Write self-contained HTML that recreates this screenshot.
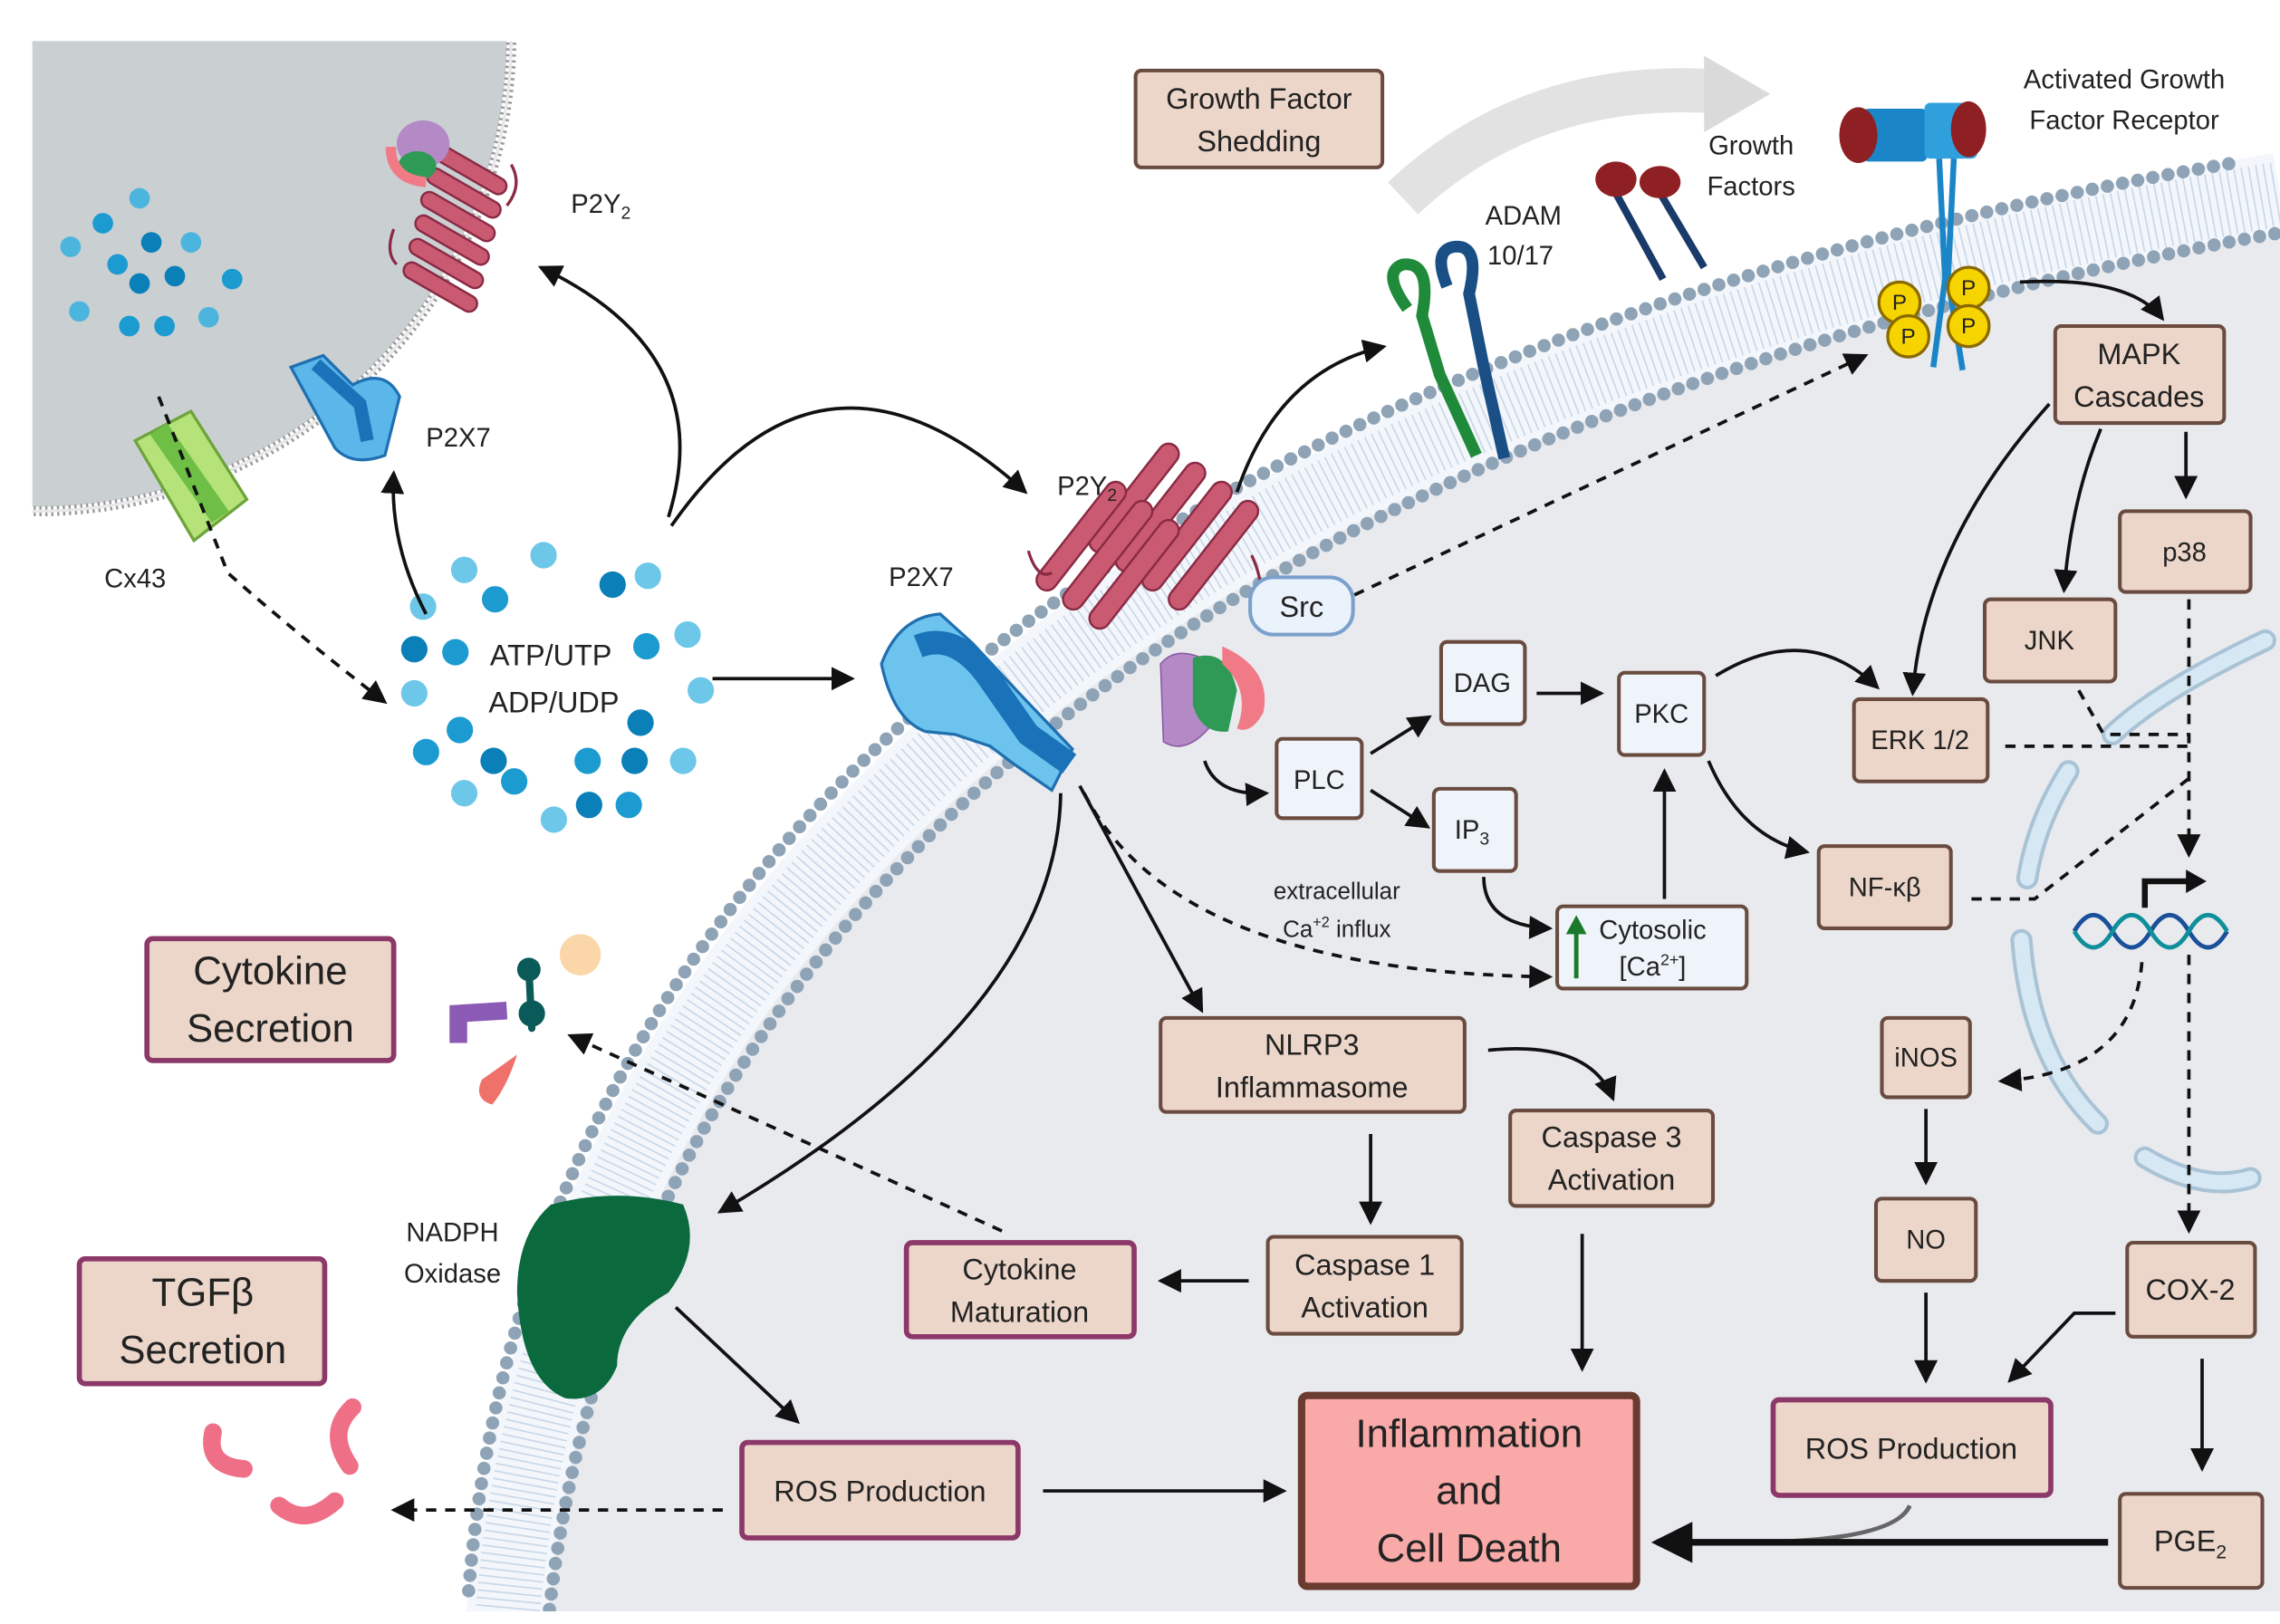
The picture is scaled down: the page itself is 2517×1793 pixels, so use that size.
<!DOCTYPE html>
<html><head><meta charset="utf-8"><style>
html,body{margin:0;padding:0;background:#fff}
svg{display:block}
text{font-family:"Liberation Sans",sans-serif;fill:#222}
.bx{fill:#ecd6c9;stroke:#6a4b3f;stroke-width:2.5}
.bb{fill:#eef4fa;stroke:#6a4b3f;stroke-width:2.5}
.bp{fill:#ecd6c9;stroke:#8c3868;stroke-width:3.5}
.a{fill:none;stroke:#111;stroke-width:2.3;marker-end:url(#ah)}
.d{fill:none;stroke:#111;stroke-width:2.3;stroke-dasharray:7 6;marker-end:url(#ah)}
.dn{fill:none;stroke:#111;stroke-width:2.3;stroke-dasharray:7 6}
.t{font-size:20px;text-anchor:middle}
.tl{font-size:27px;text-anchor:middle}
.tm{font-size:18px;text-anchor:middle}
</style></head><body>
<svg width="2517" height="1793" viewBox="0 0 1552 1105.6" xmlns="http://www.w3.org/2000/svg">
<defs>
<marker id="ah" markerUnits="userSpaceOnUse" markerWidth="18" markerHeight="16" refX="14" refY="8" orient="auto"><path d="M0 0 L16 8 L0 16 Z" fill="#111"/></marker>
<marker id="ahb" markerUnits="userSpaceOnUse" markerWidth="30" markerHeight="28" refX="24" refY="14" orient="auto"><path d="M0 0 L28 14 L0 28 Z" fill="#111"/></marker>
<clipPath id="sc"><rect x="22" y="28" width="400" height="340"/></clipPath>
</defs>

<!-- small cell -->
<g clip-path="url(#sc)">
<circle cx="25" cy="25" r="320" fill="#cacfd2"/>
<circle cx="25" cy="25" r="323" fill="none" stroke="#9a9a9a" stroke-width="7" stroke-dasharray="1.5 2.5"/>
<circle cx="25" cy="25" r="323" fill="none" stroke="#e8e8e8" stroke-width="2"/>
</g>

<!-- main cell -->
<path d="M345 1105 C 380 660, 730 270, 1552 132 L1552 1097 L345 1097 Z" fill="#e8eaee"/>
<path d="M345 1105 C 380 660, 730 270, 1552 132" fill="none" stroke="#f3f6fa" stroke-width="56"/>
<path d="M345 1105 C 380 660, 730 270, 1552 132" fill="none" stroke="#bcd0e4" stroke-width="44" stroke-dasharray="1 4" opacity="0.8"/>
<path d="M345 1105 C 380 660, 730 270, 1552 132" transform="translate(-26,-22)" fill="none" stroke="#8fa3b6" stroke-width="9" stroke-linecap="round" stroke-dasharray="0 10.5"/>
<path d="M345 1105 C 380 660, 730 270, 1552 132" transform="translate(26,22)" fill="none" stroke="#8fa3b6" stroke-width="9" stroke-linecap="round" stroke-dasharray="0 10.5"/>
<rect x="0" y="1097" width="1552" height="10" fill="#fff"/>

<!-- gray big arrow -->
<path d="M955 135 Q 1040 55 1165 62" fill="none" stroke="#e2e2e2" stroke-width="30"/>
<path d="M1160 38 L1205 64 L1160 90 Z" fill="#dadada"/>

<!-- nucleus envelope -->
<g fill="none" stroke-linecap="round">
<path d="M1542 436 Q1470 470 1438 500 M1408 525 Q1386 560 1380 598 M1376 640 Q1382 720 1428 765 M1460 788 Q1500 812 1532 802" stroke="#a9c3d6" stroke-width="15"/>
<path d="M1542 436 Q1470 470 1438 500 M1408 525 Q1386 560 1380 598 M1376 640 Q1382 720 1428 765 M1460 788 Q1500 812 1532 802" stroke="#d6e8f3" stroke-width="10"/>
</g>
<!-- DNA -->
<path d="M1412 634 Q1425 612 1438 634 T1464 634 T1490 634 T1516 634" fill="none" stroke="#1a4f9a" stroke-width="3"/>
<path d="M1412 634 Q1425 656 1438 634 T1464 634 T1490 634 T1516 634" fill="none" stroke="#0e8f9a" stroke-width="3"/>
<path d="M1460 618 L1460 600 L1490 600" fill="none" stroke="#111" stroke-width="4"/>
<path d="M1488 592 L1502 600 L1488 608 Z" fill="#111"/>

<!-- ATP dots small cell -->
<g fill="#1c9bd1">
<circle cx="95" cy="135" r="7" fill="#4cb5dd"/><circle cx="70" cy="152" r="7"/><circle cx="130" cy="165" r="7" fill="#4cb5dd"/><circle cx="103" cy="165" r="7" fill="#0a7fb8"/><circle cx="48" cy="168" r="7" fill="#4cb5dd"/><circle cx="80" cy="180" r="7"/><circle cx="119" cy="188" r="7" fill="#0a7fb8"/><circle cx="95" cy="193" r="7" fill="#0a7fb8"/><circle cx="158" cy="190" r="7"/><circle cx="54" cy="212" r="7" fill="#4cb5dd"/><circle cx="88" cy="222" r="7"/><circle cx="112" cy="222" r="7"/><circle cx="142" cy="216" r="7" fill="#4cb5dd"/>
</g>
<g fill="#1c9bd1">
<circle cx="316" cy="388" r="9" fill="#6cc7e8"/><circle cx="370" cy="378" r="9" fill="#6cc7e8"/><circle cx="288" cy="413" r="9" fill="#6cc7e8"/><circle cx="337" cy="408" r="9"/><circle cx="417" cy="398" r="9" fill="#0a7fb8"/><circle cx="441" cy="392" r="9" fill="#6cc7e8"/><circle cx="282" cy="442" r="9" fill="#0a7fb8"/><circle cx="310" cy="444" r="9"/><circle cx="440" cy="440" r="9"/><circle cx="468" cy="432" r="9" fill="#6cc7e8"/><circle cx="282" cy="472" r="9" fill="#6cc7e8"/><circle cx="477" cy="470" r="9" fill="#6cc7e8"/><circle cx="313" cy="497" r="9"/><circle cx="436" cy="492" r="9" fill="#0a7fb8"/><circle cx="290" cy="512" r="9"/><circle cx="336" cy="518" r="9" fill="#0a7fb8"/><circle cx="350" cy="532" r="9"/><circle cx="400" cy="518" r="9"/><circle cx="432" cy="518" r="9" fill="#0a7fb8"/><circle cx="465" cy="518" r="9" fill="#6cc7e8"/><circle cx="316" cy="540" r="9" fill="#6cc7e8"/><circle cx="377" cy="558" r="9" fill="#6cc7e8"/><circle cx="401" cy="548" r="9" fill="#0a7fb8"/><circle cx="428" cy="548" r="9"/>
</g>

<!-- proteins: small cell P2Y2 -->
<g fill="#c95a72" stroke="#8a2a44" stroke-width="1.5">
<rect x="292" y="110" width="56" height="11" rx="5.5" transform="rotate(30 320 115)"/>
<rect x="288" y="126" width="56" height="11" rx="5.5" transform="rotate(30 316 131)"/>
<rect x="284" y="142" width="56" height="11" rx="5.5" transform="rotate(30 312 147)"/>
<rect x="280" y="158" width="56" height="11" rx="5.5" transform="rotate(30 308 163)"/>
<rect x="276" y="174" width="56" height="11" rx="5.5" transform="rotate(30 304 179)"/>
<rect x="272" y="190" width="56" height="11" rx="5.5" transform="rotate(30 300 195)"/>
</g>
<path d="M348 112 Q356 126 345 140" fill="none" stroke="#8a2a44" stroke-width="2"/>
<path d="M268 156 Q262 172 270 180" fill="none" stroke="#8a2a44" stroke-width="2"/>
<ellipse cx="288" cy="98" rx="18" ry="16" fill="#b48ac6"/><ellipse cx="284" cy="113" rx="13" ry="10" fill="#2e9a55"/><path d="M266 100 Q266 122 290 124" fill="none" stroke="#f07a86" stroke-width="7"/>
<!-- small P2X7 -->
<path d="M198 250 L220 242 L240 262 Q262 250 272 270 L262 310 Q240 318 228 305 Z" fill="#5bb6ea" stroke="#1f6fb0" stroke-width="2"/>
<path d="M215 248 L245 275 L250 300" fill="none" stroke="#1a73b8" stroke-width="9"/>
<!-- Cx43 -->
<path d="M92 300 L130 280 L168 340 L132 368 Z" fill="#b6e27a" stroke="#6ca43a" stroke-width="2"/>
<path d="M108 292 L150 352" stroke="#6fbf46" stroke-width="14"/>

<!-- main P2Y2 -->
<g fill="#c95a72" stroke="#8a2a44" stroke-width="1.5">
<rect x="745" y="345" width="90" height="14" rx="7" transform="rotate(-52 790 352)"/>
<rect x="763" y="358" width="90" height="14" rx="7" transform="rotate(-52 808 365)"/>
<rect x="781" y="371" width="90" height="14" rx="7" transform="rotate(-52 826 378)"/>
<rect x="727" y="332" width="90" height="14" rx="7" transform="rotate(-52 772 339)"/>
<rect x="709" y="371" width="90" height="14" rx="7" transform="rotate(-52 754 378)"/>
<rect x="727" y="384" width="90" height="14" rx="7" transform="rotate(-52 772 391)"/>
<rect x="691" y="358" width="90" height="14" rx="7" transform="rotate(-52 736 365)"/>
</g>
<path d="M700 375 Q706 395 716 390" fill="none" stroke="#8a2a44" stroke-width="2"/>
<path d="M852 378 Q860 395 858 410" fill="none" stroke="#8a2a44" stroke-width="2"/>
<path d="M790 452 Q800 440 818 448 L826 492 Q808 515 792 505 Z" fill="#b48ac6" stroke="#8a5aa6" stroke-width="1"/>
<path d="M812 448 Q835 440 842 470 L836 498 Q818 500 812 480 Z" fill="#2e9a55"/>
<path d="M832 440 Q866 455 860 485 Q852 500 842 496 Q852 470 832 452 Z" fill="#f07a86"/>
<!-- main P2X7 -->
<path d="M600 452 Q612 420 640 418 L662 438 L690 468 L730 510 L716 538 L690 520 L674 508 L650 500 L630 498 Q608 490 600 452 Z" fill="#6cc3ee" stroke="#1f6fb0" stroke-width="2"/>
<path d="M625 440 Q650 430 672 460 L700 500 L728 520" fill="none" stroke="#1a73b8" stroke-width="16"/>
<!-- ADAM -->
<path d="M958 210 Q940 185 955 180 Q975 178 968 215 L980 255 L1005 310" fill="none" stroke="#1f8a3a" stroke-width="8"/>
<path d="M985 195 Q975 170 990 168 Q1008 166 1000 200 L1010 250 L1024 312" fill="none" stroke="#1a4f86" stroke-width="8"/>
<!-- growth factors -->
<line x1="1098" y1="128" x2="1132" y2="190" stroke="#1a3a6a" stroke-width="5"/>
<line x1="1128" y1="128" x2="1160" y2="182" stroke="#1a3a6a" stroke-width="5"/>
<ellipse cx="1100" cy="122" rx="14" ry="12" fill="#8e1f22"/><ellipse cx="1130" cy="124" rx="14" ry="11" fill="#8e1f22"/>
<!-- receptor -->
<rect x="1268" y="74" width="44" height="36" rx="4" fill="#1a86c8"/><rect x="1310" y="70" width="36" height="38" rx="4" fill="#2fa0dc"/>
<ellipse cx="1265" cy="92" rx="13" ry="19" fill="#8e1f22"/><ellipse cx="1340" cy="88" rx="12" ry="19" fill="#8e1f22"/>
<path d="M1320 108 L1324 190 L1316 250 M1330 108 L1326 190 L1336 252" stroke="#1a86c8" stroke-width="4" fill="none"/>
<g fill="#f6d400" stroke="#8a6a00" stroke-width="2"><circle cx="1293" cy="206" r="14"/><circle cx="1340" cy="196" r="14"/><circle cx="1299" cy="229" r="14"/><circle cx="1340" cy="222" r="14"/></g>
<g font-size="15" text-anchor="middle"><text x="1293" y="211">P</text><text x="1340" y="201">P</text><text x="1299" y="234">P</text><text x="1340" y="227">P</text></g>

<!-- NADPH -->
<path d="M375 820 Q420 808 465 820 Q478 850 455 880 Q420 900 420 930 Q410 955 385 952 Q355 940 352 880 Q352 840 375 820 Z" fill="#0a6a3e"/>
<!-- cytokines -->
<ellipse cx="395" cy="650" rx="14" ry="14" fill="#fbd6a8"/>
<circle cx="360" cy="660" r="8" fill="#0b5a5a"/><circle cx="362" cy="690" r="9" fill="#0b5a5a"/>
<path d="M360 660 L362 700" stroke="#0b5a5a" stroke-width="5" stroke-linecap="round"/>
<path d="M312 710 L312 690 L345 688" fill="none" stroke="#8a5ab4" stroke-width="12"/>
<path d="M352 718 Q345 740 335 752 Q322 748 328 735 Z" fill="#f0706a"/>
<!-- TGF -->
<g fill="none" stroke="#ee6f86" stroke-width="12" stroke-linecap="round">
<path d="M145 975 Q140 998 166 1000"/><path d="M240 958 Q222 975 238 998"/><path d="M190 1025 Q208 1040 228 1022"/>
</g>

<!-- arrows -->
<path class="d" d="M108 270 L155 390 Q 200 430 262 478"/>
<path class="a" d="M290 418 Q 265 370 268 322"/>
<path class="a" d="M455 352 Q 490 240 368 182"/>
<path class="a" d="M457 358 Q 560 210 698 335"/>
<path class="a" d="M485 462 L580 462"/>
<path class="a" d="M842 335 Q 870 252 942 236"/>
<path class="d" d="M922 405 L1270 242"/>
<path class="a" d="M1375 192 Q 1450 188 1472 217"/>
<path class="a" d="M1395 275 Q 1310 370 1302 472"/>
<path class="a" d="M1430 292 Q 1410 340 1405 402"/>
<path class="a" d="M1488 294 L1488 338"/>
<path class="d" d="M1490 408 L1490 582"/>
<path class="d" d="M1490 650 L1490 838"/>
<path class="dn" d="M1365 508 L1490 508"/>
<path class="dn" d="M1415 470 L1432 500 L1490 500"/>
<path class="dn" d="M1342 612 L1385 612 L1490 530"/>
<path class="d" d="M1458 655 Q 1452 730 1362 736"/>
<path class="a" d="M1046 472 L1090 472"/>
<path class="a" d="M933 513 L973 488"/>
<path class="a" d="M933 538 L972 563"/>
<path class="a" d="M820 518 Q 828 542 862 540"/>
<path class="a" d="M1168 460 Q 1230 422 1278 468"/>
<path class="a" d="M1163 518 Q 1185 570 1230 580"/>
<path class="a" d="M1133 612 L1133 525"/>
<path class="a" d="M1010 597 Q 1010 630 1055 632"/>
<path class="d" d="M738 540 Q 800 662 1055 665"/>
<path class="a" d="M735 535 L818 688"/>
<path class="a" d="M722 540 Q 720 690 490 825"/>
<path class="a" d="M1013 715 Q 1082 708 1098 748"/>
<path class="a" d="M933 772 L933 832"/>
<path class="a" d="M850 872 L790 872"/>
<path class="d" d="M682 838 L388 705"/>
<path class="a" d="M460 890 L543 968"/>
<path class="d" d="M492 1028 L268 1028"/>
<path class="a" d="M710 1015 L874 1015"/>
<path class="a" d="M1077 840 L1077 932"/>
<path class="a" d="M1311 755 L1311 805"/>
<path class="a" d="M1311 880 L1311 940"/>
<path class="a" d="M1440 894 L1412 894 L1368 940"/>
<path class="a" d="M1499 925 L1499 1000"/>
<path d="M1300 1025 Q1290 1048 1200 1050" fill="none" stroke="#666" stroke-width="3"/>
<path d="M1435 1050 L1128 1050" fill="none" stroke="#111" stroke-width="4.5" marker-end="url(#ahb)"/>

<!-- boxes -->
<rect class="bx" x="773" y="48" width="168" height="66" rx="4"/>
<text class="t" x="857" y="74">Growth Factor</text><text class="t" x="857" y="103">Shedding</text>
<rect class="bx" x="1399" y="222" width="115" height="66" rx="4"/>
<text class="t" x="1456" y="248">MAPK</text><text class="t" x="1456" y="277">Cascades</text>
<rect class="bx" x="1443" y="348" width="89" height="55" rx="4"/><text class="tm" x="1487" y="382">p38</text>
<rect class="bx" x="1351" y="408" width="89" height="56" rx="4"/><text class="tm" x="1395" y="442">JNK</text>
<rect class="bx" x="1262" y="476" width="91" height="56" rx="4"/><text class="tm" x="1307" y="510">ERK 1/2</text>
<rect class="bb" x="981" y="437" width="57" height="56" rx="4"/><text class="tm" x="1009" y="471">DAG</text>
<rect class="bb" x="1102" y="458" width="58" height="56" rx="4"/><text class="tm" x="1131" y="492">PKC</text>
<rect class="bb" x="869" y="503" width="58" height="54" rx="4"/><text class="tm" x="898" y="537">PLC</text>
<rect class="bb" x="976" y="537" width="56" height="56" rx="4"/><text class="tm" x="1002" y="571">IP<tspan font-size="12" dy="4">3</tspan></text>
<rect class="bb" x="1060" y="617" width="129" height="56" rx="4"/>
<line x1="1073" y1="666" x2="1073" y2="632" stroke="#1a7a2a" stroke-width="3"/><path d="M1066 636 L1073 623 L1080 636 Z" fill="#1a7a2a"/>
<text class="tm" x="1125" y="639">Cytosolic</text><text class="tm" x="1125" y="664">[Ca<tspan font-size="11" dy="-7">2+</tspan><tspan dy="7">]</tspan></text>
<rect class="bx" x="1238" y="576" width="90" height="56" rx="4"/><text class="tm" x="1283" y="610">NF-κβ</text>
<rect class="bx" x="790" y="693" width="207" height="64" rx="4"/>
<text class="t" x="893" y="718">NLRP3</text><text class="t" x="893" y="747">Inflammasome</text>
<rect class="bx" x="1028" y="756" width="138" height="65" rx="4"/>
<text class="t" x="1097" y="781">Caspase 3</text><text class="t" x="1097" y="810">Activation</text>
<rect class="bx" x="863" y="842" width="132" height="66" rx="4"/>
<text class="t" x="929" y="868">Caspase 1</text><text class="t" x="929" y="897">Activation</text>
<rect class="bp" x="617" y="846" width="155" height="64" rx="4"/>
<text class="t" x="694" y="871">Cytokine</text><text class="t" x="694" y="900">Maturation</text>
<rect class="bx" x="1281" y="693" width="60" height="54" rx="4"/><text class="tm" x="1311" y="726">iNOS</text>
<rect class="bx" x="1277" y="816" width="68" height="56" rx="4"/><text class="tm" x="1311" y="850">NO</text>
<rect class="bx" x="1448" y="846" width="87" height="64" rx="4"/><text class="t" x="1491" y="885">COX-2</text>
<rect class="bp" x="1207" y="953" width="189" height="65" rx="4"/><text class="t" x="1301" y="993">ROS Production</text>
<rect class="bx" x="1443" y="1017" width="97" height="64" rx="4"/><text class="t" x="1491" y="1056">PGE<tspan font-size="13" dy="5">2</tspan></text>
<rect x="886" y="950" width="228" height="130" rx="4" fill="#f9aaa8" stroke="#6b3a30" stroke-width="5"/>
<text class="tl" x="1000" y="985">Inflammation</text><text class="tl" x="1000" y="1024">and</text><text class="tl" x="1000" y="1063">Cell Death</text>
<rect class="bp" x="505" y="982" width="188" height="65" rx="4"/><text class="t" x="599" y="1022">ROS Production</text>
<rect class="bp" x="100" y="639" width="168" height="83" rx="4"/>
<text class="tl" x="184" y="670">Cytokine</text><text class="tl" x="184" y="709">Secretion</text>
<rect class="bp" x="54" y="857" width="167" height="85" rx="4"/>
<text class="tl" x="138" y="889">TGFβ</text><text class="tl" x="138" y="928">Secretion</text>
<rect x="851" y="393" width="70" height="39" rx="16" fill="#eaf2fb" stroke="#7aa0cc" stroke-width="2.5"/><text class="t" x="886" y="420">Src</text>

<!-- labels -->
<text class="tm" x="409" y="145">P2Y<tspan font-size="12" dy="4">2</tspan></text>
<text class="tm" x="312" y="304">P2X7</text>
<text class="tm" x="92" y="400">Cx43</text>
<text class="t" x="375" y="453">ATP/UTP</text><text class="t" x="377" y="485">ADP/UDP</text>
<text class="tm" x="740" y="337">P2Y<tspan font-size="12" dy="4">2</tspan></text>
<text class="tm" x="627" y="399">P2X7</text>
<text class="tm" x="1037" y="153">ADAM</text><text class="tm" x="1035" y="180">10/17</text>
<text class="tm" x="1192" y="105">Growth</text><text class="tm" x="1192" y="133">Factors</text>
<text class="tm" x="1446" y="60">Activated Growth</text><text class="tm" x="1446" y="88">Factor Receptor</text>
<text font-size="16" text-anchor="middle" x="910" y="612">extracellular</text>
<text font-size="16" text-anchor="middle" x="910" y="638">Ca<tspan font-size="10" dy="-7">+2</tspan><tspan dy="7"> influx</tspan></text>
<text class="tm" x="308" y="845">NADPH</text><text class="tm" x="308" y="873">Oxidase</text>
</svg>
</body></html>
